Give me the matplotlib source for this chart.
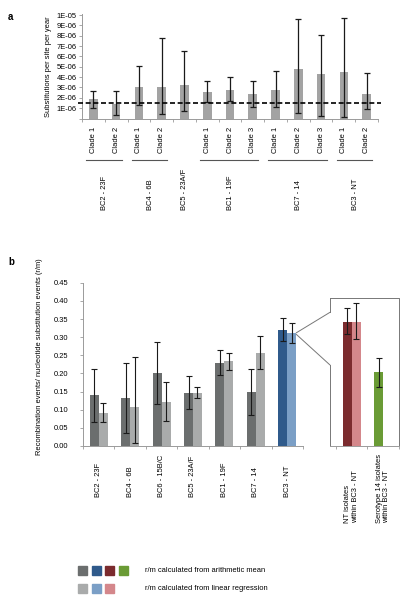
import numpy as np
import matplotlib
matplotlib.use('Agg')
import matplotlib.pyplot as plt
from matplotlib.patches import Rectangle, ConnectionPatch

plt.rcParams['font.family'] = ['Liberation Sans', 'DejaVu Sans']

# ---- panel a data (substitutions per site per year, units of 1E-6)
clade_labels = ['Clade 1', 'Clade 2', 'Clade 1', 'Clade 2', '', 'Clade 1', 'Clade 2',
                'Clade 3', 'Clade 1', 'Clade 2', 'Clade 3', 'Clade 1', 'Clade 2']
subst_rate = [1.85, 1.43, 3.0, 3.0, 3.19, 2.55, 2.8, 2.32, 2.74, 4.74, 4.32, 4.45, 2.32]
subst_hi = [2.7, 2.66, 5.06, 7.74, 6.55, 3.65, 4.03, 3.65, 4.61, 9.65, 8.06, 9.68, 4.39]
subst_lo = [0.99, 0.30, 1.26, 0.45, 0.71, 1.58, 1.71, 1.13, 1.13, 0.55, 0.26, 0.16, 0.9]
bc_groups_a = ['BC2 - 23F', 'BC4 - 6B', 'BC5 - 23A/F', 'BC1 - 19F', 'BC7 - 14', 'BC3 - NT']
bc_sizes_a = [2, 2, 1, 3, 3, 2]
overall_rate = 1.45

# ---- panel b data (r/m)
bc_groups_b = ['BC2 - 23F', 'BC4 - 6B', 'BC6 - 15B/C', 'BC5 - 23A/F', 'BC1 - 19F', 'BC7 - 14', 'BC3 - NT']
rm_mean = [0.140, 0.132, 0.200, 0.146, 0.229, 0.148, 0.320]
rm_mean_hi = [0.213, 0.230, 0.286, 0.194, 0.264, 0.211, 0.352]
rm_mean_lo = [0.067, 0.037, 0.116, 0.101, 0.195, 0.086, 0.289]
rm_reg = [0.092, 0.107, 0.121, 0.146, 0.233, 0.256, 0.311]
rm_reg_hi = [0.118, 0.246, 0.176, 0.163, 0.257, 0.304, 0.338]
rm_reg_lo = [0.067, 0.007, 0.070, 0.132, 0.210, 0.212, 0.283]

inset_labels = ['NT isolates\nwithin BC3 - NT', 'Serotype 14 isolates\nwithin BC3 - NT']
inset_mean = [0.343, 0.203]
inset_mean_hi = [0.380, 0.244]
inset_mean_lo = [0.308, 0.164]
inset_reg = [0.343]
inset_reg_hi = [0.395]
inset_reg_lo = [0.295]

W, H = 407, 602
fig = plt.figure(figsize=(W / 100, H / 100), dpi=100)

def px_axes(x0, y0, x1, y1):
    return fig.add_axes([x0 / W, 1 - y1 / H, (x1 - x0) / W, (y1 - y0) / H])

spine_c = '#9a9a9a'
err_c = '#1a1a1a'
fs = 5.4

# ================= panel a
ax = px_axes(82, 14, 378, 118.5)
x = np.arange(len(subst_rate)) + 0.5
vals = np.array(subst_rate) * 1e-6
yerr = [vals - np.array(subst_lo) * 1e-6, np.array(subst_hi) * 1e-6 - vals]
ax.bar(x, vals, width=0.38, color='#a3a3a3', zorder=2)
ax.errorbar(x, vals, yerr=yerr, fmt='none', ecolor=err_c, elinewidth=0.9, capsize=2, capthick=0.9, zorder=3)
ax.axhline(overall_rate * 1e-6, color='black', lw=1.2, ls=(0, (3, 1.6)), zorder=4,
           xmin=-0.015, xmax=1.01, clip_on=False)
ax.set_xlim(0, len(subst_rate))
ax.set_ylim(0, 1.01e-5)
yt = np.arange(0, 11) * 1e-6
ax.set_yticks(yt)
ax.set_yticklabels([''] + ['%dE-06' % i for i in range(1, 10)] + ['1E-05'], fontsize=fs)
ax.set_xticks(np.arange(len(subst_rate) + 1))
ax.set_xticklabels([])
for s in ['top', 'right']:
    ax.spines[s].set_visible(False)
for s in ['left', 'bottom']:
    ax.spines[s].set_color(spine_c)
    ax.spines[s].set_linewidth(0.7)
ax.tick_params(axis='y', length=2.5, width=0.6, color=spine_c, pad=1.5)
ax.tick_params(axis='x', length=2, width=0.6, color=spine_c)
ax.set_ylabel('Substitutions per site per year', fontsize=fs, labelpad=3)

tr = ax.get_xaxis_transform()
for xi, lab in zip(x, clade_labels):
    ax.text(xi, -0.33, lab, rotation=90, ha='center', va='bottom', fontsize=fs, transform=tr)
start = 0
for name, n in zip(bc_groups_a, bc_sizes_a):
    if n > 1:
        ax.plot([start + 0.18, start + n - 0.25], [-0.397, -0.397], color='#555555', lw=0.8,
                transform=tr, clip_on=False)
    ax.text(start + n / 2, -0.876, name, rotation=90, ha='center', va='bottom', fontsize=fs, transform=tr)
    start += n

fig.text(10 / W, 1 - 17 / H, 'a', fontsize=7, fontweight='bold', ha='center', va='center')

# ================= panel b
bw = 0.285
dark_c = ['#6b6e6e'] * 6 + ['#2f5a8b']
light_c = ['#a9abab'] * 6 + ['#7b9fc6']

axb = px_axes(83, 282.8, 303, 446)
xb = np.arange(len(bc_groups_b)) + 0.5
m = np.array(rm_mean)
r = np.array(rm_reg)
axb.bar(xb - bw / 2, m, width=bw, color=dark_c, zorder=2)
axb.bar(xb + bw / 2, r, width=bw, color=light_c, zorder=2)
axb.errorbar(xb - bw / 2, m, yerr=[m - np.array(rm_mean_lo), np.array(rm_mean_hi) - m], fmt='none',
             ecolor=err_c, elinewidth=0.8, capsize=2, capthick=0.8, zorder=3)
axb.errorbar(xb + bw / 2, r, yerr=[r - np.array(rm_reg_lo), np.array(rm_reg_hi) - r], fmt='none',
             ecolor=err_c, elinewidth=0.8, capsize=2, capthick=0.8, zorder=3)
axb.set_xlim(0, len(bc_groups_b))
axb.set_ylim(0, 0.45)
axb.set_yticks(np.arange(0, 0.451, 0.05))
axb.set_yticklabels(['%.2f' % v for v in np.arange(0, 0.451, 0.05)], fontsize=fs)
axb.set_xticks(np.arange(len(bc_groups_b) + 1))
axb.set_xticklabels([])
for s in ['top', 'right']:
    axb.spines[s].set_visible(False)
for s in ['left', 'bottom']:
    axb.spines[s].set_color(spine_c)
    axb.spines[s].set_linewidth(0.7)
axb.tick_params(axis='y', length=2.5, width=0.6, color=spine_c, pad=8)
axb.tick_params(axis='x', length=2, width=0.6, color=spine_c)
trb = axb.get_xaxis_transform()
for xi, lab in zip(xb, bc_groups_b):
    axb.text(xi, -0.3125, lab, rotation=90, ha='center', va='bottom', fontsize=fs, transform=trb)

fig.text(40 / W, 1 - 357 / H, 'Recombination events/ nucleotide substitution events (r/m)',
         rotation=90, ha='center', va='center', fontsize=fs)
fig.text(11 / W, 1 - 262 / H, 'b', fontsize=7, fontweight='bold', ha='center', va='center')

# ---- inset (NT vs serotype 14 within BC3)
axi = px_axes(330, 297.5, 399, 446)
top_i = (446 - 297.5) / (446 - 282.8) * 0.45
xi_ = np.arange(len(inset_mean)) + 0.5
im = np.array(inset_mean)
ir = np.array(inset_reg)
axi.bar(xi_ - bw / 2, im, width=bw, color=['#7b2b2e', '#6a9b35'], zorder=2)
axi.bar(xi_[:1] + bw / 2, ir, width=bw, color='#d4878b', zorder=2)
axi.errorbar(xi_ - bw / 2, im, yerr=[im - np.array(inset_mean_lo), np.array(inset_mean_hi) - im], fmt='none',
             ecolor=err_c, elinewidth=0.8, capsize=2, capthick=0.8, zorder=3)
axi.errorbar(xi_[:1] + bw / 2, ir, yerr=[ir - np.array(inset_reg_lo), np.array(inset_reg_hi) - ir], fmt='none',
             ecolor=err_c, elinewidth=0.8, capsize=2, capthick=0.8, zorder=3)
axi.set_xlim(-0.19, 2.0)
axi.set_ylim(0, top_i)
axi.set_yticks([])
axi.set_xticks([0, 1, 2])
axi.set_xticklabels([])
axi.tick_params(axis='x', length=2, width=0.6, color=spine_c)
for s in ['top', 'right', 'left']:
    axi.spines[s].set_visible(False)
axi.spines['bottom'].set_color(spine_c)
axi.spines['bottom'].set_linewidth(0.7)
box_c = '#777777'
up_y = (446 - 312.3) / (446 - 297.5)
lo_y = (446 - 365) / (446 - 297.5)
axi.plot([0, 1, 1], [1, 1, 0], transform=axi.transAxes, color=box_c, lw=0.7, clip_on=False)
axi.plot([0, 0], [1, up_y], transform=axi.transAxes, color=box_c, lw=0.7, clip_on=False)
axi.plot([0, 0], [lo_y, 0], transform=axi.transAxes, color=box_c, lw=0.7, clip_on=False)
for yy, ytarget in [(0.312, up_y), (0.308, lo_y)]:
    con = ConnectionPatch(xyA=(xb[-1] + bw, yy), coordsA=axb.transData,
                          xyB=(0, ytarget), coordsB=axi.transAxes, color=box_c, lw=0.7)
    fig.add_artist(con)
tri = axi.get_xaxis_transform()
for xx, lab in zip(xi_, inset_labels):
    axi.text(xx, -0.5185, lab, rotation=90, ha='center', va='bottom', multialignment='left',
             fontsize=fs, transform=tri, linespacing=1.1)

# ---- legend
row1 = ['#6b6e6e', '#2f5a8b', '#7b2b2e', '#6a9b35']
row2 = ['#a9abab', '#7b9fc6', '#d4878b']
sq_x = [78, 92, 105, 119]
for cols, yc, txt in [(row1, 570.5, 'r/m calculated from arithmetic mean'),
                      (row2, 588.5, 'r/m calculated from linear regression')]:
    for c, sx in zip(cols, sq_x):
        fig.add_artist(Rectangle((sx / W, 1 - (yc + 4.5) / H), 9 / W, 9 / H,
                                 transform=fig.transFigure, color=c))
    fig.text(145 / W, 1 - yc / H, txt, fontsize=fs, ha='left', va='center')

fig.savefig('out.png', dpi=100)
